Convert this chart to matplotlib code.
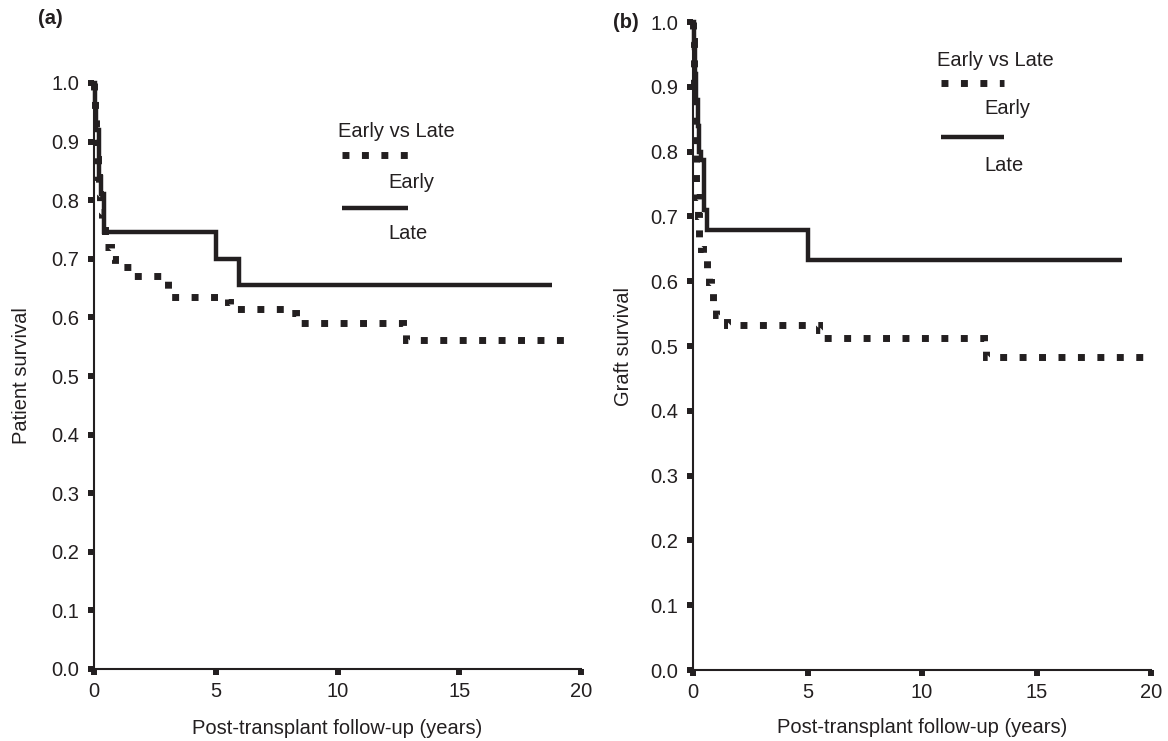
import matplotlib
matplotlib.use('Agg')
import matplotlib.pyplot as plt
from matplotlib.lines import Line2D

plt.rcParams['font.family'] = ['Liberation Sans', 'DejaVu Sans']

INK = '#231f20'

# ---------------- data ----------------
# Panel (a): patient survival
a_early_t = [0, 0.02, 0.04, 0.06, 0.08, 0.10, 0.13, 0.16, 0.20, 0.25, 0.32, 0.45,
             0.70, 0.85, 1.6, 2.9, 3.05, 3.15, 5.5, 5.6, 8.1, 8.3, 12.7, 12.8]
a_early_s = [1.0, 0.98, 0.96, 0.94, 0.92, 0.90, 0.87, 0.84, 0.81, 0.78, 0.75, 0.72,
             0.70, 0.686, 0.67, 0.663, 0.648, 0.634, 0.627, 0.614, 0.607, 0.591, 0.585, 0.562]
a_early_end = 19.65

a_late_t = [0, 0.05, 0.10, 0.20, 0.30, 0.42, 5.0, 5.95]
a_late_s = [1.0, 0.96, 0.92, 0.84, 0.81, 0.745, 0.70, 0.655]
a_late_end = 18.8

# Panel (b): graft survival
b_early_t = [0, 0.02, 0.04, 0.06, 0.08, 0.10, 0.12, 0.15, 0.20, 0.25, 0.35, 0.45,
             0.60, 0.70, 0.78, 0.87, 1.0, 1.5, 5.5, 5.65, 12.7, 12.8]
b_early_s = [1.0, 0.97, 0.93, 0.89, 0.85, 0.81, 0.77, 0.73, 0.70, 0.665, 0.65, 0.636,
             0.613, 0.598, 0.582, 0.563, 0.548, 0.533, 0.525, 0.512, 0.506, 0.483]
b_early_end = 19.7

b_late_t = [0, 0.05, 0.10, 0.15, 0.20, 0.25, 0.35, 0.48, 0.60, 5.0]
b_late_s = [1.0, 0.96, 0.92, 0.88, 0.84, 0.80, 0.787, 0.71, 0.679, 0.633]
b_late_end = 18.75

x_ticks = [0, 5, 10, 15, 20]
y_ticks = [0.0, 0.1, 0.2, 0.3, 0.4, 0.5, 0.6, 0.7, 0.8, 0.9, 1.0]
y_tick_labels = ['%.1f' % v for v in y_ticks]

x_title = 'Post-transplant follow-up (years)'
legend_title = 'Early vs Late'
series_names = ['Early', 'Late']

# ---------------- figure ----------------
W, H = 1168, 741
fig = plt.figure(figsize=(W / 100, H / 100), dpi=100)


def px_axes(left, right, bottom, top):
    return fig.add_axes([left / W, 1 - bottom / H, (right - left) / W, (bottom - top) / H])


ax_a = px_axes(94, 581, 669, 83)
ax_b = px_axes(693, 1151, 670, 22)

FS = 14.5
DOT_LW = 5.0
DOT_STYLE = (0, (1, 1.8))
SOLID_LW = 3.2


def style(ax):
    for side in ('top', 'right'):
        ax.spines[side].set_visible(False)
    for side in ('left', 'bottom'):
        ax.spines[side].set_linewidth(1.5)
        ax.spines[side].set_color(INK)
    ax.set_xlim(0, 20)
    ax.set_ylim(0, 1.0)
    ax.set_xticks(x_ticks)
    ax.set_xticklabels([str(v) for v in x_ticks])
    ax.set_yticks(y_ticks)
    ax.set_yticklabels(y_tick_labels)
    ax.tick_params(axis='both', direction='out', length=4.5, width=4.3,
                   color=INK, labelcolor=INK, labelsize=FS)
    ax.tick_params(axis='y', pad=6.0)
    ax.tick_params(axis='x', pad=5.0)


def km(ax, t, s, end, dotted):
    tt = list(t) + [end]
    ss = list(s) + [s[-1]]
    if dotted:
        ax.step(tt, ss, where='post', color=INK, lw=DOT_LW, linestyle=DOT_STYLE,
                dash_capstyle='butt', dash_joinstyle='miter', clip_on=False, zorder=3)
    else:
        ax.step(tt, ss, where='post', color=INK, lw=SOLID_LW, solid_capstyle='butt',
                solid_joinstyle='miter', clip_on=False, zorder=3)


def legend(ax, x_title_, y_title, x0, x1, y_dot, x_txt, y_early, y_solid, y_late):
    tr = ax.transAxes
    ax.text(x_title_, y_title, legend_title, transform=tr, ha='left', va='center',
            fontsize=FS, color=INK)
    ax.add_line(Line2D([x0, x1], [y_dot, y_dot], transform=tr, color=INK, lw=DOT_LW,
                       linestyle=DOT_STYLE, dash_capstyle='butt', clip_on=False))
    ax.text(x_txt, y_early, series_names[0], transform=tr, ha='left', va='center',
            fontsize=FS, color=INK)
    ax.add_line(Line2D([x0, x1], [y_solid, y_solid], transform=tr, color=INK, lw=SOLID_LW,
                       solid_capstyle='butt', clip_on=False))
    ax.text(x_txt, y_late, series_names[1], transform=tr, ha='left', va='center',
            fontsize=FS, color=INK)


# panel (a)
style(ax_a)
km(ax_a, a_early_t, a_early_s, a_early_end, True)
km(ax_a, a_late_t, a_late_s, a_late_end, False)
ax_a.set_ylabel('Patient survival', fontsize=FS, color=INK, va='center')
ax_a.yaxis.set_label_coords(-0.1485, 0.5)
ax_a.set_xlabel(x_title, fontsize=FS, color=INK, va='center')
ax_a.xaxis.set_label_coords(0.5, -0.1007)
legend(ax_a, 0.501, 0.918, 0.509, 0.645, 0.877, 0.604, 0.831, 0.787, 0.744)

# panel (b)
style(ax_b)
km(ax_b, b_early_t, b_early_s, b_early_end, True)
km(ax_b, b_late_t, b_late_s, b_late_end, False)
ax_b.set_ylabel('Graft survival', fontsize=FS, color=INK, va='center')
ax_b.yaxis.set_label_coords(-0.151, 0.5)
ax_b.set_xlabel(x_title, fontsize=FS, color=INK, va='center')
ax_b.xaxis.set_label_coords(0.5, -0.0895)
legend(ax_b, 0.533, 0.941, 0.541, 0.678, 0.906, 0.637, 0.866, 0.823, 0.778)

# panel tags
fig.text(50 / W, 1 - 19 / H, '(a)', ha='center', va='center', fontsize=FS,
         fontweight='bold', color=INK)
fig.text(626 / W, 1 - 23 / H, '(b)', ha='center', va='center', fontsize=FS,
         fontweight='bold', color=INK)

fig.savefig('out.png', dpi=100, facecolor='white')
